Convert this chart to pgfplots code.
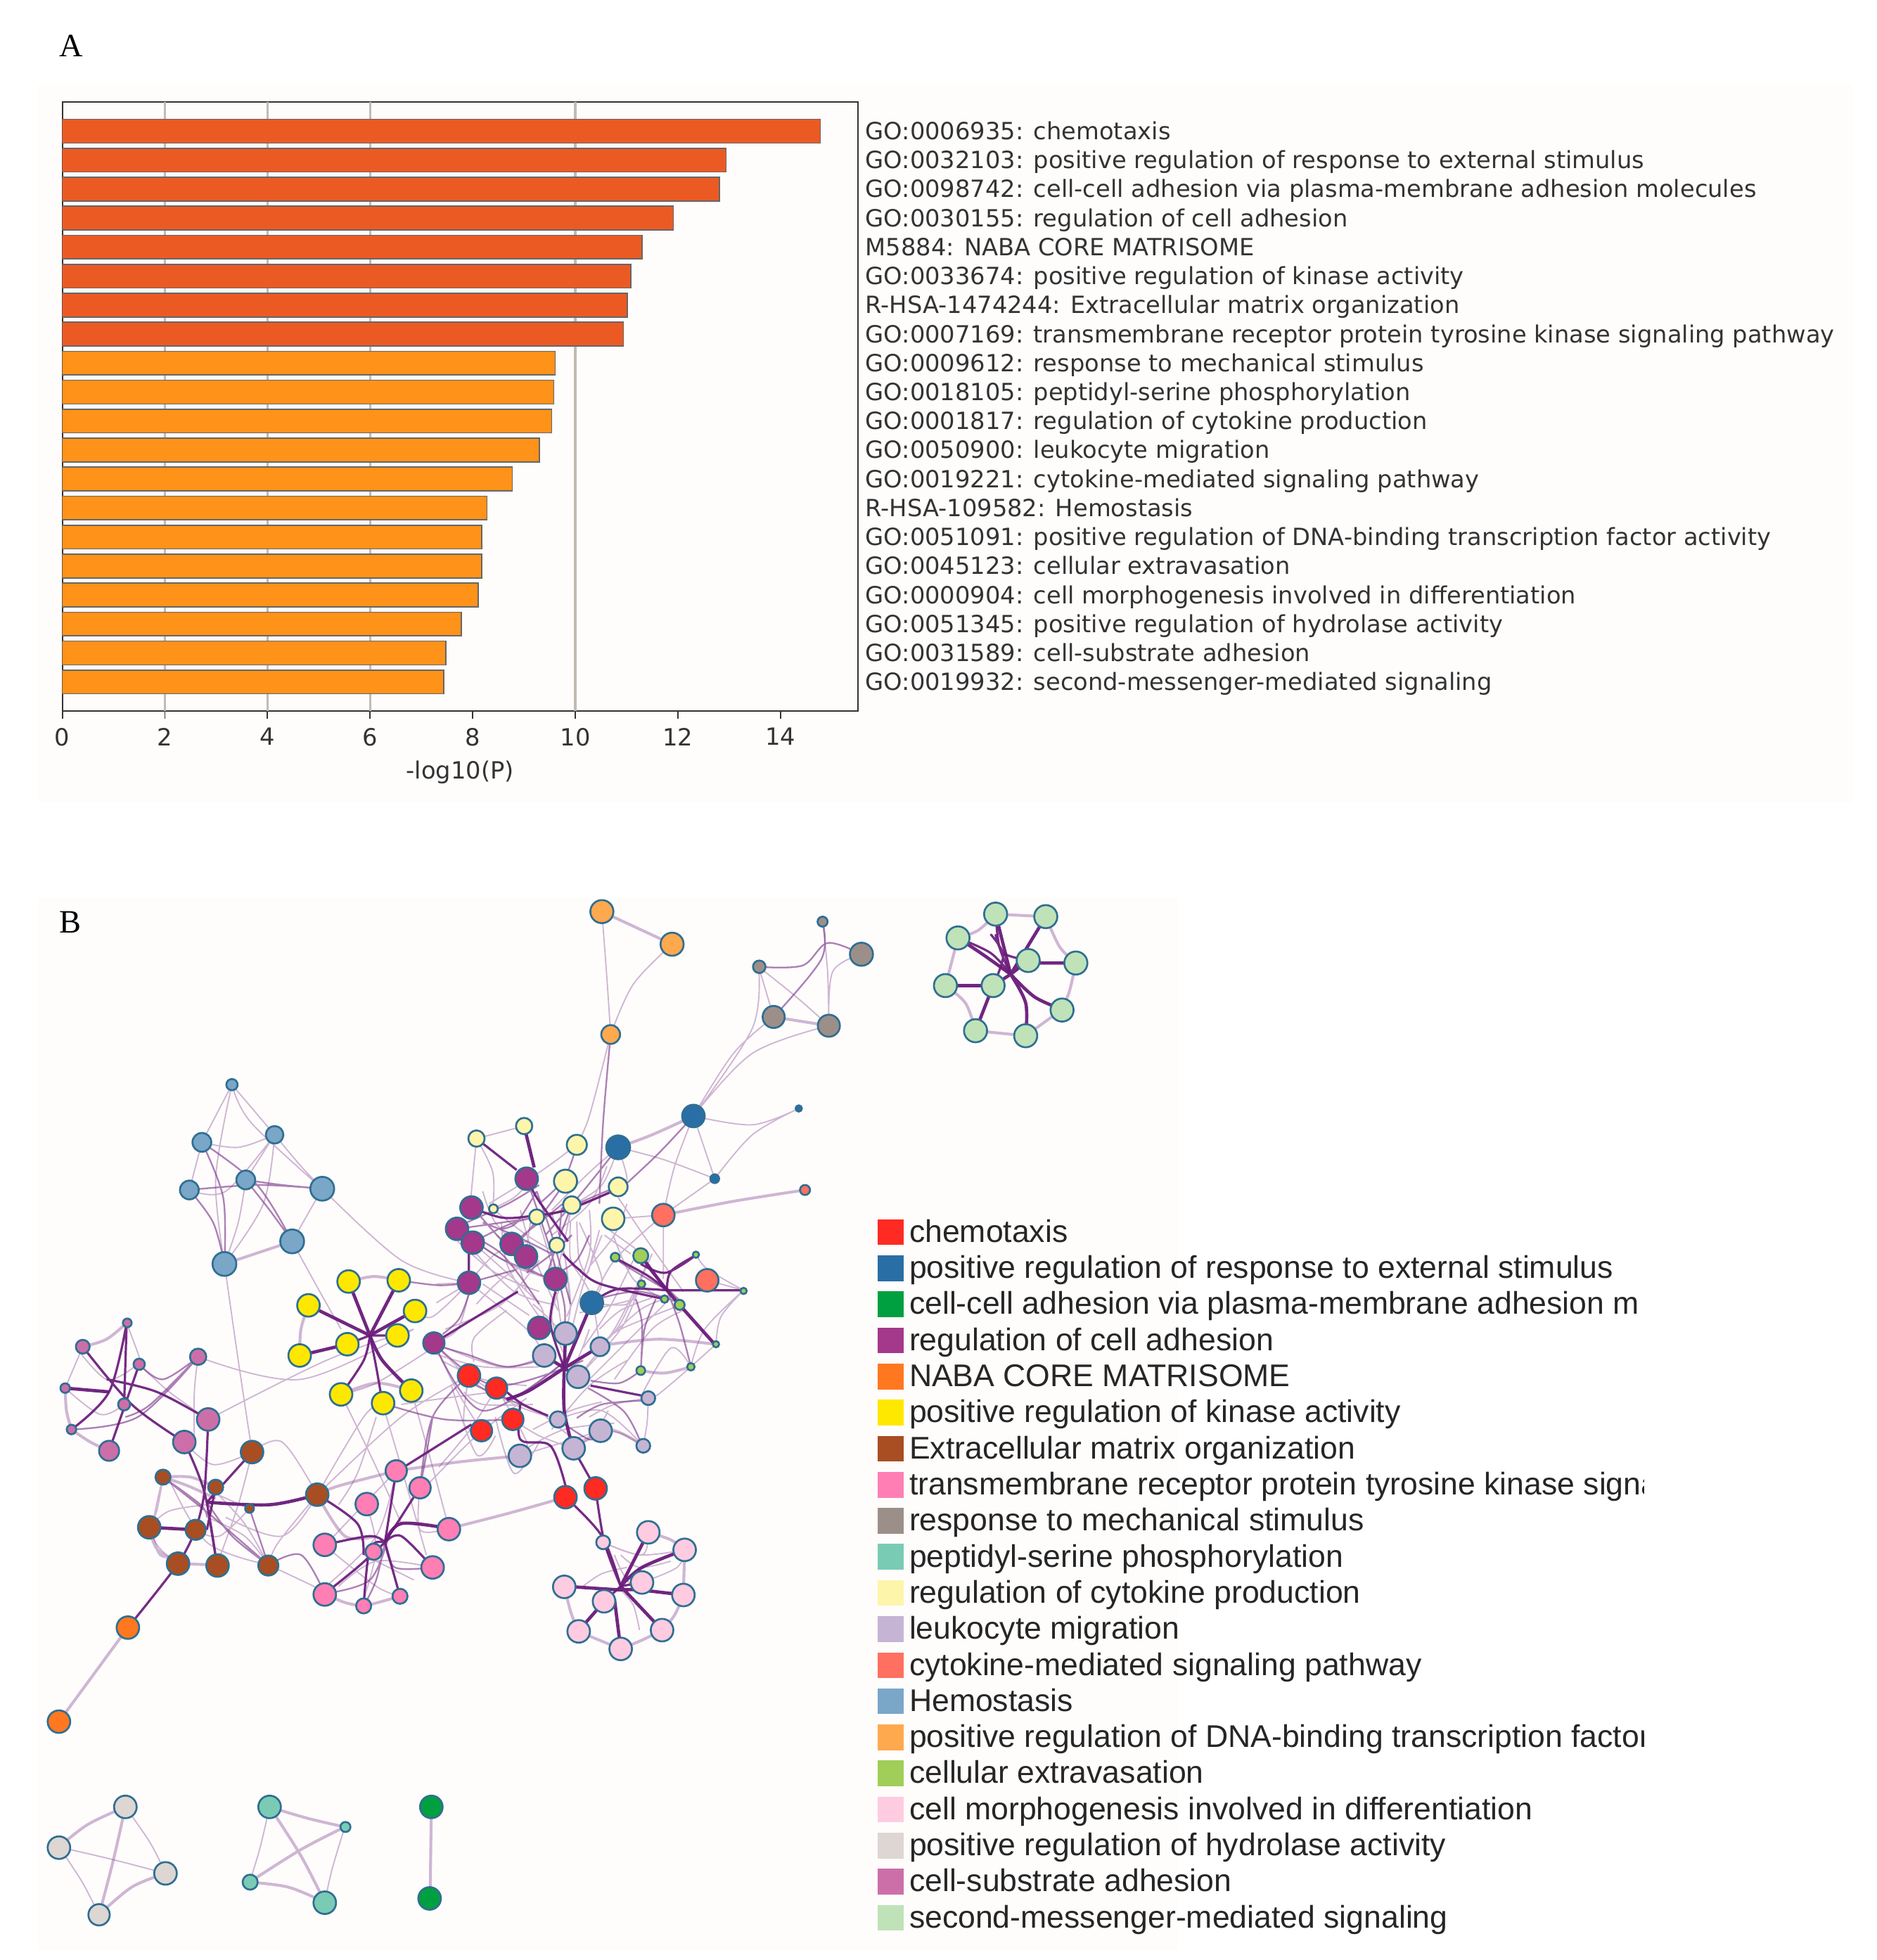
\documentclass[border=0pt]{standalone}
\usepackage{fontspec}
\usepackage{pgfplots}
\pgfplotsset{compat=1.18}
\setmainfont{DejaVu Sans}
\newfontfamily\legf{Liberation Sans}
\newfontfamily\panelf{Liberation Serif}

\definecolor{barA}{HTML}{EC5A24}
\definecolor{barB}{HTML}{FF9219}
\definecolor{gridc}{HTML}{C2BAB2}
\definecolor{panel}{HTML}{FEFDFC}
\definecolor{ring}{HTML}{2F6F92}
\definecolor{cRed}{HTML}{FF2A22}
\definecolor{cBlue}{HTML}{2A6EA6}
\definecolor{cGreen}{HTML}{00A040}
\definecolor{cPurple}{HTML}{A4388A}
\definecolor{cOrange}{HTML}{FF7820}
\definecolor{cYellow}{HTML}{FFE800}
\definecolor{cBrown}{HTML}{A84E22}
\definecolor{cPink}{HTML}{FF7FB4}
\definecolor{cGrey}{HTML}{9C8F8A}
\definecolor{cTeal}{HTML}{7ACBB4}
\definecolor{cLtYel}{HTML}{FDF5AA}
\definecolor{cLilac}{HTML}{C6B4D4}
\definecolor{cSalmon}{HTML}{FF7060}
\definecolor{cHemo}{HTML}{7AA6C8}
\definecolor{cDna}{HTML}{FFA94F}
\definecolor{cExt}{HTML}{A0CE58}
\definecolor{cLtPink}{HTML}{FFCBE0}
\definecolor{cHydro}{HTML}{DDD6D2}
\definecolor{cSubs}{HTML}{CC6FA8}
\definecolor{cMess}{HTML}{C0E2B8}
\definecolor{edge}{HTML}{6A1B7A}

\pgfplotsset{
  ed/.style={no marks, smooth, tension=0.55, unbounded coords=jump, forget plot},
  eThick/.style={ed, draw=edge, opacity=0.95, line width=2.6pt},
  eDark/.style={ed, draw=edge, opacity=0.92, line width=1.8pt},
  eMid/.style={ed, draw=edge!85, opacity=0.65, line width=1.3pt},
  eLight/.style={ed, draw=edge!75, opacity=0.42, line width=1.05pt},
  ePale/.style={ed, draw=edge!75, opacity=0.42, line width=2.3pt},
  netnode/.style={scatter, only marks, mark=*, forget plot,
    scatter/use mapped color={draw=ring, fill=#1},
    mark options={line width=1.5pt},
    visualization depends on={\thisrow{r}\as\noder},
    scatter/@pre marker code/.append style={/tikz/mark size=\noder}},
  swatch/.style={only marks, mark=square*, mark size=10pt, forget plot,
    mark options={draw=#1, line width=0pt, fill=#1}}
}
\newcommand{\legline}[2]{\node[anchor=base west, inner sep=0pt, text=black!85, font=\legf\fontsize{25}{28}\selectfont] at (axis cs:725,#1) {#2};}

\begin{document}
\begin{tikzpicture}
\useasboundingbox (0,0) rectangle (1496.9pt,1563.1pt);
\fill[panel] (30pt,923pt) rectangle (1478pt,1495pt);
\fill[panel] (30pt,8pt) rectangle (940pt,847pt);

\begin{axis}[
  at={(49.7pt,996.1pt)}, anchor=south west,
  scale only axis, width=634.5pt, height=485.5pt,
  xmin=0, xmax=15.51, ymin=-1, ymax=20, y dir=reverse,
  xtick={0,2,...,14},
  ytick={0,...,19},
  yticklabel pos=right,
  yticklabels={GO:0006935: chemotaxis,
    GO:0032103: positive regulation of response to external stimulus,
    GO:0098742: cell-cell adhesion via plasma-membrane adhesion molecules,
    GO:0030155: regulation of cell adhesion,
    M5884: NABA CORE MATRISOME,
    GO:0033674: positive regulation of kinase activity,
    R-HSA-1474244: Extracellular matrix organization,
    GO:0007169: transmembrane receptor protein tyrosine kinase signaling pathway,
    GO:0009612: response to mechanical stimulus,
    GO:0018105: peptidyl-serine phosphorylation,
    GO:0001817: regulation of cytokine production,
    GO:0050900: leukocyte migration,
    GO:0019221: cytokine-mediated signaling pathway,
    R-HSA-109582: Hemostasis,
    GO:0051091: positive regulation of DNA-binding transcription factor activity,
    GO:0045123: cellular extravasation,
    GO:0000904: cell morphogenesis involved in differentiation,
    GO:0051345: positive regulation of hydrolase activity,
    GO:0031589: cell-substrate adhesion,
    GO:0019932: second-messenger-mediated signaling},
  ytick style={draw=none},
  xtick style={draw=black!80, line width=1pt},
  tick align=outside, xtick pos=bottom, major tick length=6pt,
  /pgf/number format/assume math mode=true,
  ticklabel style={font=\fontsize{18.9}{21}\selectfont, text=black!80},
  yticklabel style={xshift=-3.5pt, yshift=-1.7pt, text height=14pt, text depth=4pt},
  xticklabel style={yshift=-4pt},
  xlabel={-log10(P)},
  xlabel style={font=\fontsize{18.9}{21}\selectfont, text=black!80, yshift=7pt},
  axis line style={draw=black!80, line width=1.2pt},
  extra x ticks={2,4,6,10},
  extra x tick labels={},
  extra x tick style={grid=major, major grid style={draw=gridc, line width=1.8pt}},
]
\addplot[xbar, bar shift=0pt, bar width=0.82, fill=barA, draw=black!60, line width=0.9pt] coordinates {
  (14.78,0) (12.94,1) (12.81,2) (11.91,3) (11.30,4) (11.08,5) (11.01,6) (10.94,7)};
\addplot[xbar, bar shift=0pt, bar width=0.82, fill=barB, draw=black!60, line width=0.9pt] coordinates {
  (9.61,8) (9.58,9) (9.54,10) (9.30,11) (8.77,12) (8.28,13) (8.18,14) (8.18,15)
  (8.11,16) (7.78,17) (7.48,18) (7.44,19)};
\end{axis}

\begin{axis}[
  at={(0pt,0pt)}, anchor=south west,
  scale only axis, width=1496.9pt, height=1563.1pt,
  xmin=0, xmax=1496.9, ymin=0, ymax=1563.1, y dir=reverse,
  hide axis, clip=false,
]
% pale wide links
\addplot[ePale] coordinates {
 (480,727) (536,753) (0,nan)
 (617,811) (661,818) (0,nan)
 (493,915) (520,905) (553,890) (0,nan)
 (529,969) (585,958) (642,949) (0,nan)
 (233,990) (179,1008) (0,nan)
 (102,1298) (47,1373) (0,nan)
 (358,1219) (405,1207) (451,1194) (0,nan)
 (316,1173) (365,1166) (414,1161) (0,nan)
 (79,1527) (105,1505) (132,1494) (0,nan)
 (47,1473) (70,1455) (100,1441) (0,nan)
 (100,1441) (90,1485) (79,1527) (0,nan)
 (215,1441) (240,1480) (259,1517) (0,nan)
 (199,1501) (240,1475) (275,1457) (0,nan)
 (199,1501) (230,1505) (259,1517) (0,nan)
 (215,1441) (245,1450) (275,1457) (0,nan)
 (344,1441) (343,1514) (0,nan)
 (794,729) (834,731) (0,nan)
 (764,748) (780,742) (794,729) (0,nan)
 (834,731) (845,755) (858,768) (0,nan)
 (858,768) (853,790) (847,805) (0,nan)
 (847,805) (818,826) (0,nan)
 (778,822) (818,826) (0,nan)
 (754,786) (770,800) (778,822) (0,nan)
 (754,786) (764,748) (0,nan)
 (66,1074) (85,1068) (101,1055) (0,nan)
 (52,1107) (53,1125) (57,1140) (0,nan)
 (57,1140) (72,1150) (87,1157) (0,nan)
 (142,1247) (173,1248) (0,nan)
 (119,1218) (125,1235) (142,1247) (0,nan)
 (259,1271) (275,1278) (290,1281) (0,nan)
 (290,1281) (305,1277) (319,1273) (0,nan)
 (517,1222) (535,1228) (546,1236) (0,nan)
 (546,1236) (545,1272) (0,nan)
 (450,1265) (455,1285) (461,1301) (0,nan)
 (461,1301) (478,1308) (495,1315) (0,nan)
 (495,1315) (512,1308) (528,1300) (0,nan)
 (528,1300) (538,1288) (545,1272) (0,nan)
 (480,1073) (525,1068) (570,1072) (0,nan)
 (511,1093) (530,1095) (551,1090) (0,nan)
 (457,1155) (485,1140) (513,1153) (0,nan)
 (239,1081) (240,1060) (246,1041) (0,nan)
 (272,1112) (300,1103) (328,1109) (0,nan)
 (278,1022) (298,1018) (318,1021) (0,nan)
 (130,1178) (150,1185) (172,1195) (0,nan)
 (130,1178) (152,1178) (172,1186) (0,nan)
 (119,1218) (128,1240) (142,1240) (0,nan)
 (253,1192) (270,1185) (316,1173) (0,nan)
 (253,1192) (275,1225) (300,1225) (0,nan)
};
% thin pale links
\addplot[eLight] coordinates {
 (480,727) (484,780) (487,825) (0,nan)
 (536,753) (505,785) (487,825) (0,nan)
 (605,771) (600,820) (553,890) (0,nan)
 (617,811) (585,840) (553,890) (0,nan)
 (661,818) (600,840) (553,890) (0,nan)
 (656,735) (660,775) (661,818) (0,nan)
 (687,761) (664,775) (661,818) (0,nan)
 (605,771) (617,811) (0,nan)
 (605,771) (635,795) (661,818) (0,nan)
 (553,890) (600,897) (637,884) (0,nan)
 (570,940) (600,905) (637,884) (0,nan)
 (493,915) (530,925) (570,940) (0,nan)
 (553,890) (570,940) (0,nan)
 (553,890) (538,930) (529,969) (0,nan)
 (529,969) (570,940) (0,nan)
 (529,969) (529,1020) (0,nan)
 (529,969) (490,1005) (472,1039) (0,nan)
 (489,972) (529,969) (0,nan)
 (493,915) (500,940) (493,946) (0,nan)
 (380,908) (418,898) (0,nan)
 (380,908) (375,960) (0,nan)
 (380,908) (393,935) (393,964) (0,nan)
 (487,825) (470,890) (460,913) (0,nan)
 (185,865) (161,911) (0,nan)
 (185,865) (200,895) (257,948) (0,nan)
 (185,865) (219,905) (0,nan)
 (185,865) (172,940) (179,1008) (0,nan)
 (161,911) (190,915) (219,905) (0,nan)
 (161,911) (151,949) (0,nan)
 (219,905) (196,941) (0,nan)
 (219,905) (180,950) (151,949) (0,nan)
 (219,905) (240,930) (257,948) (0,nan)
 (257,948) (233,990) (0,nan)
 (219,905) (210,960) (179,1008) (0,nan)
 (196,941) (190,975) (179,1008) (0,nan)
 (257,948) (320,1005) (374,1023) (0,nan)
 (233,990) (255,1030) (272,1060) (0,nan)
 (179,1008) (190,1085) (201,1158) (0,nan)
 (166,1132) (260,1085) (330,1060) (0,nan)
 (158,1082) (240,1100) (330,1060) (0,nan)
 (158,1082) (155,1110) (155,1150) (0,nan)
 (66,1074) (52,1107) (0,nan)
 (130,1178) (125,1205) (119,1218) (0,nan)
 (201,1158) (170,1168) (147,1150) (0,nan)
 (253,1192) (225,1150) (201,1158) (0,nan)
 (253,1192) (222,1230) (214,1248) (0,nan)
 (253,1192) (225,1225) (180,1210) (0,nan)
 (130,1178) (122,1225) (142,1247) (0,nan)
 (214,1248) (250,1265) (259,1271) (0,nan)
 (253,1192) (290,1130) (305,1119) (0,nan)
 (253,1192) (320,1130) (374,1097) (0,nan)
 (272,1112) (300,1170) (320,1215) (0,nan)
 (305,1119) (320,1170) (340,1240) (0,nan)
 (335,1186) (335,1220) (358,1219) (0,nan)
 (328,1109) (345,1170) (358,1219) (0,nan)
 (346,1071) (400,1090) (434,1081) (0,nan)
 (346,1071) (400,1115) (451,1085) (0,nan)
 (346,1071) (365,1110) (384,1141) (0,nan)
 (374,1023) (420,1060) (434,1081) (0,nan)
 (374,1023) (345,1050) (331,1045) (0,nan)
 (272,1112) (300,1103) (345,1075) (0,nan)
 (444,993) (470,1030) (478,1074) (0,nan)
 (451,1005) (455,1040) (451,1063) (0,nan)
 (462,975) (480,1020) (470,1040) (0,nan)
 (489,985) (505,1020) (530,1036) (0,nan)
 (493,955) (520,995) (545,1030) (0,nan)
 (460,913) (430,935) (390,960) (0,nan)
 (493,915) (470,935) (440,965) (0,nan)
 (493,915) (480,945) (456,961) (0,nan)
 (484,930) (470,960) (440,985) (0,nan)
 (425,965) (420,1010) (443,1020) (0,nan)
 (364,980) (410,1010) (443,1020) (0,nan)
 (377,991) (430,1040) (430,1059) (0,nan)
 (374,1023) (395,1000) (420,990) (0,nan)
 (443,1020) (450,990) (456,961) (0,nan)
 (478,1074) (510,1045) (530,1036) (0,nan)
 (472,1039) (500,1040) (511,1024) (0,nan)
 (478,1074) (495,1060) (545,1040) (0,nan)
 (461,1098) (495,1060) (511,1024) (0,nan)
 (564,1021) (593,1029) (0,nan)
 (555,1000) (564,1012) (593,1029) (0,nan)
 (593,1029) (575,1050) (571,1072) (0,nan)
 (593,1029) (562,1060) (551,1090) (0,nan)
 (571,1072) (551,1090) (0,nan)
 (551,1090) (525,1112) (517,1115) (0,nan)
 (517,1115) (516,1135) (513,1153) (0,nan)
 (479,1141) (495,1143) (513,1153) (0,nan)
 (445,1132) (480,1125) (513,1153) (0,nan)
 (414,1161) (450,1150) (479,1141) (0,nan)
 (374,1097) (370,1135) (384,1141) (0,nan)
 (396,1107) (375,1140) (350,1170) (0,nan)
 (409,1132) (430,1145) (457,1155) (0,nan)
 (374,1097) (410,1120) (445,1132) (0,nan)
 (396,1107) (420,1150) (414,1161) (0,nan)
 (254,1238) (290,1200) (316,1173) (0,nan)
 (481,1230) (512,1240) (517,1222) (0,nan)
 (481,1230) (510,1240) (546,1236) (0,nan)
 (512,1262) (540,1250) (546,1236) (0,nan)
 (47,1473) (90,1483) (132,1494) (0,nan)
 (47,1473) (65,1500) (79,1527) (0,nan)
 (100,1441) (120,1470) (132,1494) (0,nan)
 (215,1441) (207,1475) (199,1501) (0,nan)
 (275,1457) (265,1490) (259,1517) (0,nan)
 (374,1023) (348,1024) (0,nan)
 (374,1023) (348,1039) (0,nan)
 (385,1024) (422,1049) (0,nan)
 (404,1045) (378,1067) (378,1086) (0,nan)
 (455,974) (455,1004) (464,1013) (0,nan)
 (460,974) (462,1005) (470,1020) (0,nan)
 (478,981) (469,1015) (0,nan)
 (482,985) (503,1000) (0,nan)
 (486,981) (507,996) (0,nan)
 (462,1047) (507,1036) (0,nan)
 (478,1060) (495,1045) (520,1035) (0,nan)
 (512,1112) (535,1075) (551,1090) (0,nan)
 (396,985) (410,1000) (420,1030) (0,nan)
 (393,964) (410,955) (420,945) (0,nan)
 (393,964) (420,985) (445,1000) (0,nan)
 (380,1040) (400,1020) (425,1005) (0,nan)
 (346,1071) (365,1060) (374,1030) (0,nan)
 (450,1020) (440,1050) (452,1085) (0,nan)
 (425,1040) (445,1060) (452,1085) (0,nan)
 (470,1060) (460,1085) (450,1091) (0,nan)
 (395,1130) (410,1175) (430,1150) (0,nan)
 (360,1105) (380,1160) (395,1145) (0,nan)
 (425,1140) (455,1125) (480,1118) (0,nan)
 (420,1155) (450,1140) (490,1135) (0,nan)
 (430,1125) (465,1150) (485,1125) (0,nan)
 (290,1240) (310,1250) (330,1260) (0,nan)
 (270,1265) (300,1245) (345,1250) (0,nan)
 (262,1235) (300,1265) (319,1273) (0,nan)
 (292,1199) (300,1235) (290,1275) (0,nan)
 (316,1173) (300,1225) (260,1265) (0,nan)
 (270,1200) (285,1175) (300,1130) (0,nan)
 (135,1180) (165,1230) (214,1248) (0,nan)
 (172,1190) (195,1215) (214,1248) (0,nan)
 (199,1203) (175,1225) (156,1220) (0,nan)
 (199,1203) (170,1190) (172,1186) (0,nan)
 (201,1158) (190,1200) (173,1248) (0,nan)
 (165,1210) (195,1225) (214,1248) (0,nan)
 (119,1218) (135,1205) (165,1200) (0,nan)
 (61,1075) (85,1100) (107,1090) (0,nan)
 (52,1107) (80,1128) (99,1120) (0,nan)
 (111,1088) (135,1110) (166,1132) (0,nan)
 (101,1055) (112,1085) (111,1088) (0,nan)
 (495,1240) (510,1250) (535,1245) (0,nan)
 (490,1240) (505,1265) (540,1270) (0,nan)
 (510,1300) (505,1280) (495,1268) (0,nan)
 (465,1265) (480,1255) (500,1250) (0,nan)
 (400,975) (405,1010) (430,1050) (0,nan)
 (415,965) (425,1000) (445,1045) (0,nan)
 (430,975) (440,1010) (448,1060) (0,nan)
 (440,968) (450,1000) (455,1045) (0,nan)
 (470,965) (470,1000) (452,1050) (0,nan)
 (480,985) (465,1025) (455,1065) (0,nan)
 (500,960) (490,985) (470,1010) (0,nan)
 (505,1005) (485,1045) (465,1075) (0,nan)
 (520,1000) (495,1055) (478,1074) (0,nan)
 (515,1010) (490,1060) (461,1098) (0,nan)
 (530,1040) (500,1070) (470,1100) (0,nan)
 (545,1045) (520,1060) (490,1100) (0,nan)
 (385,950) (395,975) (420,1000) (0,nan)
 (365,990) (395,1015) (430,1030) (0,nan)
 (380,1000) (410,1030) (440,1040) (0,nan)
 (355,1060) (400,1040) (430,1005) (0,nan)
 (348,1080) (385,1090) (430,1090) (0,nan)
 (352,1085) (385,1100) (420,1105) (0,nan)
 (370,1110) (385,1120) (425,1120) (0,nan)
 (320,1120) (355,1115) (395,1110) (0,nan)
 (340,1185) (380,1145) (420,1115) (0,nan)
 (440,1140) (470,1105) (500,1085) (0,nan)
 (470,1130) (490,1120) (517,1115) (0,nan)
};
% medium links
\addplot[eMid] coordinates {
 (605,771) (640,770) (660,752) (687,761) (0,nan)
 (656,735) (655,765) (617,811) (0,nan)
 (553,890) (525,920) (493,950) (0,nan)
 (487,825) (481,895) (478,960) (0,nan)
 (161,911) (205,945) (233,990) (0,nan)
 (151,949) (205,945) (257,948) (0,nan)
 (196,941) (225,945) (257,948) (0,nan)
 (196,941) (215,965) (233,990) (0,nan)
 (151,949) (170,975) (179,1008) (0,nan)
 (161,911) (178,955) (179,1008) (0,nan)
 (111,1088) (130,1100) (158,1082) (0,nan)
 (158,1082) (110,1130) (57,1140) (0,nan)
 (318,1021) (350,1025) (374,1023) (0,nan)
 (305,1119) (355,1132) (409,1132) (0,nan)
 (130,1178) (170,1210) (214,1248) (0,nan)
 (199,1203) (214,1248) (0,nan)
 (335,1186) (345,1130) (374,1097) (0,nan)
 (214,1248) (240,1240) (259,1271) (0,nan)
 (374,1023) (410,1013) (0,nan)
 (346,1071) (385,1125) (451,1085) (0,nan)
 (346,1071) (395,1105) (465,1085) (0,nan)
 (420,940) (440,1000) (443,1020) (0,nan)
 (377,963) (420,1010) (443,1020) (0,nan)
 (364,980) (400,1000) (430,1040) (0,nan)
 (428,950) (440,985) (455,1040) (0,nan)
 (456,961) (445,990) (435,1020) (0,nan)
 (451,942) (435,965) (410,995) (0,nan)
 (493,946) (460,960) (425,975) (0,nan)
 (460,913) (450,940) (430,960) (0,nan)
 (493,915) (465,950) (435,985) (0,nan)
 (507,1036) (512,1056) (511,1093) (0,nan)
 (523,1036) (514,1060) (511,1093) (0,nan)
 (532,1029) (542,1056) (551,1090) (0,nan)
 (471,1101) (494,1103) (511,1093) (0,nan)
 (469,1107) (497,1125) (510,1148) (0,nan)
 (460,1131) (480,1120) (512,1117) (0,nan)
 (445,1132) (470,1148) (478,1141) (0,nan)
 (335,1186) (340,1160) (345,1130) (0,nan)
 (481,1230) (490,1250) (495,1265) (0,nan)
 (130,1178) (160,1200) (165,1210) (0,nan)
 (158,1082) (120,1120) (100,1130) (0,nan)
 (364,980) (400,975) (440,968) (490,950) (0,nan)
 (377,991) (410,975) (455,965) (0,nan)
 (408,992) (430,975) (455,955) (0,nan)
 (348,1073) (372,1080) (404,1090) (432,1084) (0,nan)
 (374,1032) (366,1052) (353,1064) (0,nan)
 (372,985) (400,1004) (432,1017) (0,nan)
 (448,963) (446,985) (0,nan)
 (428,950) (412,975) (400,980) (0,nan)
 (456,985) (440,1000) (420,1015) (0,nan)
 (310,1225) (295,1260) (259,1271) (0,nan)
 (307,1230) (300,1260) (290,1281) (0,nan)
 (307,1230) (315,1250) (345,1250) (0,nan)
 (165,1198) (185,1225) (214,1248) (0,nan)
 (415,1120) (380,1105) (374,1097) (0,nan)
 (404,1116) (395,1107) (0,nan)
 (385,975) (410,985) (440,1000) (0,nan)
 (372,975) (405,960) (430,945) (0,nan)
 (440,1000) (450,1040) (450,1060) (0,nan)
 (470,985) (460,1005) (445,1015) (0,nan)
 (532,1029) (500,1010) (490,1003) (0,nan)
 (511,1001) (520,1015) (545,1040) (0,nan)
 (545,1040) (510,1030) (480,1035) (0,nan)
};
% dark links
\addplot[eDark] coordinates {
 (380,908) (412,933) (0,nan)
 (376,963) (400,971) (422,970) (452,965) (486,951) (0,nan)
 (420,940) (428,955) (440,972) (453,990) (0,nan)
 (449,1000) (460,1011) (479,1024) (530,1036) (0,nan)
 (490,1003) (516,1017) (532,1029) (0,nan)
 (555,1001) (535,1014) (532,1029) (0,nan)
 (511,1008) (531,1015) (555,1001) (0,nan)
 (532,1029) (593,1029) (0,nan)
 (472,1039) (493,1028) (532,1029) (0,nan)
 (374,1000) (374,1023) (0,nan)
 (346,1071) (413,1030) (0,nan)
 (443,1030) (439,1056) (450,1091) (0,nan)
 (471,1105) (512,1113) (0,nan)
 (404,1110) (417,1120) (437,1129) (0,nan)
 (415,1120) (415,1148) (439,1153) (451,1185) (0,nan)
 (457,1155) (475,1187) (0,nan)
 (317,1065) (295,1065) (0,nan)
 (277,1072) (295,1065) (0,nan)
 (272,1112) (290,1085) (295,1065) (0,nan)
 (305,1119) (300,1090) (295,1065) (0,nan)
 (101,1055) (87,1110) (57,1140) (0,nan)
 (101,1055) (99,1120) (0,nan)
 (66,1074) (105,1120) (147,1150) (0,nan)
 (111,1088) (87,1157) (0,nan)
 (166,1132) (125,1110) (85,1100) (0,nan)
 (147,1150) (163,1190) (173,1248) (0,nan)
 (166,1132) (163,1190) (156,1220) (0,nan)
 (201,1158) (165,1198) (0,nan)
 (172,1186) (165,1220) (0,nan)
 (173,1248) (165,1198) (0,nan)
 (316,1173) (307,1230) (0,nan)
 (335,1186) (307,1230) (0,nan)
 (259,1232) (295,1225) (307,1230) (0,nan)
 (345,1250) (320,1225) (307,1230) (0,nan)
 (259,1271) (285,1250) (307,1230) (0,nan)
 (319,1273) (307,1230) (0,nan)
 (290,1281) (295,1235) (307,1230) (0,nan)
 (253,1192) (285,1215) (290,1240) (0,nan)
 (322,1170) (376,1136) (0,nan)
 (512,1262) (495,1265) (0,nan)
 (482,1277) (495,1265) (0,nan)
 (475,1187) (482,1230) (495,1265) (0,nan)
 (451,1194) (480,1225) (495,1265) (0,nan)
 (156,1220) (142,1247) (102,1298) (0,nan)
 (764,748) (790,760) (806,777) (0,nan)
 (794,729) (797,755) (806,777) (0,nan)
 (792,786) (800,762) (790,745) (0,nan)
 (820,766) (800,760) (794,745) (0,nan)
};
% heaviest links
\addplot[eThick] coordinates {
 (418,898) (426,931) (0,nan)
 (511,1001) (532,1029) (570,1072) (0,nan)
 (472,1039) (450,1091) (0,nan)
 (450,1091) (478,1074) (0,nan)
 (450,1091) (451,1064) (0,nan)
 (450,1091) (434,1081) (0,nan)
 (450,1091) (461,1098) (0,nan)
 (450,1091) (422,1109) (404,1116) (0,nan)
 (450,1091) (450,1125) (457,1155) (0,nan)
 (806,777) (794,729) (0,nan)
 (806,777) (834,731) (0,nan)
 (806,777) (785,762) (764,748) (0,nan)
 (806,777) (820,766) (0,nan)
 (820,768) (858,768) (0,nan)
 (806,777) (792,786) (0,nan)
 (792,786) (754,786) (0,nan)
 (792,786) (778,822) (0,nan)
 (806,777) (818,800) (818,826) (0,nan)
 (806,777) (825,795) (847,805) (0,nan)
 (246,1041) (295,1065) (0,nan)
 (239,1081) (277,1072) (0,nan)
 (278,1022) (295,1065) (0,nan)
 (318,1021) (295,1065) (0,nan)
 (331,1045) (295,1065) (0,nan)
 (328,1109) (305,1085) (295,1065) (0,nan)
 (52,1107) (87,1110) (0,nan)
 (253,1192) (215,1200) (165,1198) (0,nan)
 (119,1218) (156,1220) (0,nan)
 (358,1219) (320,1215) (307,1230) (0,nan)
 (450,1265) (495,1268) (0,nan)
 (546,1236) (512,1250) (495,1265) (0,nan)
 (517,1222) (495,1265) (0,nan)
 (545,1272) (510,1268) (495,1268) (0,nan)
 (461,1301) (482,1277) (0,nan)
 (528,1300) (495,1265) (0,nan)
 (495,1315) (490,1275) (0,nan)
};

\addplot[netnode=cDna] table {
x y r
480 727 9.2
536 753 9.2
487 825 7.5
};
\addplot[netnode=cGrey] table {
x y r
656 735 4
687 761 9.2
605.5 771 5
617 811 8.8
661 818 8.8
};
\addplot[netnode=cMess] table {
x y r
794 729 9.2
834 731 9.2
764 748 9.2
858 768 9.2
820 766 9.2
754 786 9.2
792 786 9.2
847 805.5 9.2
778 822 9.2
818 826 9.2
};
\addplot[netnode=cHemo] table {
x y r
185 865 4.5
161 911 7.5
219 905 7
196 941 7.5
151 949 7.5
257 948 9.5
233 990 9.5
179 1008 9.5
};
\addplot[netnode=cPurple] table {
x y r
420 940 9
376 963 9
364.5 980 9
377 991 9
408 992 9
419.5 1002 9
443 1020 9
374 1023 9
430 1059 9
346 1071 8.5
};
\addplot[netnode=cLtYel] table {
x y r
380 908 6.5
418 898 6.5
460 913 8
451 942 9.2
493 946.5 7.5
456 961 7
489 972 9
428 970.5 6
393.5 964 3.5
444 993 6
};
\addplot[netnode=cBlue] table {
x y r
553 890 9
493 915 9.5
637 884 2.5
570 940 3.5
472 1039 9
};
\addplot[netnode=cSalmon] table {
x y r
529 969 9
642 949 4
564 1021 9
};
\addplot[netnode=cExt] table {
x y r
490.6 1002.6 3.5
511 1001.4 6
555 1000.6 2.5
511.6 1024 3
530 1036 3
542 1040.6 4
593 1029.5 2.5
571 1072 2.5
511 1093 3.5
551 1090 3
};
\addplot[netnode=cYellow] table {
x y r
278 1022 9
318 1021 9
246 1041 9
331 1045.5 9
277 1072 9
317 1065 9
239 1081 9
272 1112 9
305.5 1119 9
328 1109 9
};
\addplot[netnode=cLilac] table {
x y r
451 1063.5 9
434 1081 9
478.5 1074 7.5
461 1098 9
517 1115 5.5
445 1132 6.5
479 1141 9
513 1153 5.5
457.5 1155 9
414.6 1161 9
};
\addplot[netnode=cRed] table {
x y r
374 1097 9
396 1107 8.5
409 1132 8.5
384 1141 8.5
451 1194 9
475 1187 9
};
\addplot[netnode=cSubs] table {
x y r
101.5 1055 3.5
66 1074 5.5
111 1088 4.5
158 1082 6.5
52 1107 3.8
99 1120 4.8
57 1140 3.8
166 1132 9
147 1150 9
87 1157 8
};
\addplot[netnode=cBrown] table {
x y r
201 1158 9
130 1178 6
172 1186 6
199 1203 3.5
253 1192 9
119 1218 9
156 1220 8
142 1247 9
173.5 1248.5 9
214 1248.5 8
};
\addplot[netnode=cPink] table {
x y r
316 1173 8.5
335 1186.5 8.5
292.5 1199.5 9
358 1219.5 9
259 1232 9
298 1237.5 6.5
345 1250 9
259 1271.6 9
319 1273 6
290 1280.7 6
};
\addplot[netnode=cLtPink] table {
x y r
517 1222 9
546 1236 9
481 1230 5.5
512 1262 9
450 1265.5 9
545 1272 9
481.7 1277 9
461.5 1301 9
528 1300 9
495 1315 9
};
\addplot[netnode=cOrange] table {
x y r
102 1298 9
47 1373 9
};
\addplot[netnode=cHydro] table {
x y r
100 1441 9
47 1473.5 9
132 1494 9
79 1527 8.5
};
\addplot[netnode=cTeal] table {
x y r
215 1441 9
275.5 1457 4
199.5 1501 6
259 1517.4 9
};
\addplot[netnode=cGreen] table {
x y r
344 1441 9
342.6 1514 9
};

% legend
\addplot[swatch=cRed] coordinates {(710.4,982.6)};
\addplot[swatch=cBlue] coordinates {(710.4,1011.4)};
\addplot[swatch=cGreen] coordinates {(710.4,1040.2)};
\addplot[swatch=cPurple] coordinates {(710.4,1068.9)};
\addplot[swatch=cOrange] coordinates {(710.4,1097.7)};
\addplot[swatch=cYellow] coordinates {(710.4,1126.5)};
\addplot[swatch=cBrown] coordinates {(710.4,1155.3)};
\addplot[swatch=cPink] coordinates {(710.4,1184.1)};
\addplot[swatch=cGrey] coordinates {(710.4,1212.8)};
\addplot[swatch=cTeal] coordinates {(710.4,1241.6)};
\addplot[swatch=cLtYel] coordinates {(710.4,1270.4)};
\addplot[swatch=cLilac] coordinates {(710.4,1299.2)};
\addplot[swatch=cSalmon] coordinates {(710.4,1328.0)};
\addplot[swatch=cHemo] coordinates {(710.4,1356.7)};
\addplot[swatch=cDna] coordinates {(710.4,1385.5)};
\addplot[swatch=cExt] coordinates {(710.4,1414.3)};
\addplot[swatch=cLtPink] coordinates {(710.4,1443.1)};
\addplot[swatch=cHydro] coordinates {(710.4,1471.9)};
\addplot[swatch=cSubs] coordinates {(710.4,1500.6)};
\addplot[swatch=cMess] coordinates {(710.4,1529.4)};

\begin{scope}
\clip (axis cs:700,960) rectangle (axis cs:1311,1550);
\legline{990.6}{chemotaxis}
\legline{1019.4}{positive regulation of response to external stimulus}
\legline{1048.2}{cell-cell adhesion via plasma-membrane adhesion m}
\legline{1076.9}{regulation of cell adhesion}
\legline{1105.7}{NABA CORE MATRISOME}
\legline{1134.5}{positive regulation of kinase activity}
\legline{1163.3}{Extracellular matrix organization}
\legline{1192.1}{transmembrane receptor protein tyrosine kinase signa}
\legline{1220.8}{response to mechanical stimulus}
\legline{1249.6}{peptidyl-serine phosphorylation}
\legline{1278.4}{regulation of cytokine production}
\legline{1307.2}{leukocyte migration}
\legline{1336.0}{cytokine-mediated signaling pathway}
\legline{1364.7}{Hemostasis}
\legline{1393.5}{positive regulation of DNA-binding transcription factor}
\legline{1422.3}{cellular extravasation}
\legline{1451.1}{cell morphogenesis involved in differentiation}
\legline{1479.9}{positive regulation of hydrolase activity}
\legline{1508.6}{cell-substrate adhesion}
\legline{1537.4}{second-messenger-mediated signaling}
\end{scope}

\node[anchor=base west, inner sep=0pt, font=\panelf\fontsize{26}{28}\selectfont] at (axis cs:47,45) {A};
\node[anchor=base west, inner sep=0pt, font=\panelf\fontsize{26}{28}\selectfont] at (axis cs:47,744) {B};
\end{axis}
\end{tikzpicture}
\end{document}
